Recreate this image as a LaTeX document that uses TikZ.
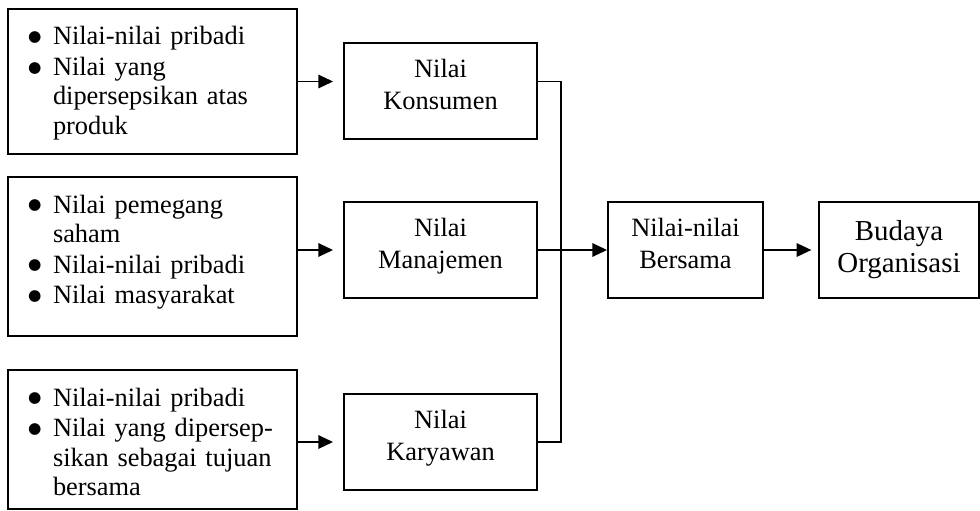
\documentclass[tikz,border=0pt]{standalone}
\usepackage{fontspec}
\setmainfont{Liberation Serif}
\newfontfamily\simbol{DejaVu Sans}
\usetikzlibrary{arrows.meta}

\newcommand{\butir}{\hspace*{15pt}\makebox[18.75pt][l]{\raisebox{2.6pt}{\simbol\fontsize{11.5pt}{12pt}\selectfont ●}}}
\newcommand{\lanjut}{\hspace*{33.75pt}}

\tikzset{
  sumber/.style={draw, line width=1.4pt, inner sep=0pt, text width=216.75pt, align=left,
    text height=27pt, font=\fontsize{19.8pt}{22pt}\selectfont},
  nilai/.style={draw, line width=1.4pt, inner sep=0pt, align=center, text width=144.75pt,
    text height=26pt, text depth=46pt, font=\fontsize{19.8pt}{24pt}\selectfont},
  panah/.style={line width=1.4pt, -{Triangle[length=11pt,width=10pt]}},
  garis/.style={line width=1.4pt}
}

\begin{document}
\begin{tikzpicture}[x=0.75pt,y=0.75pt,yscale=-1,xscale=1]
\useasboundingbox (0,0) rectangle (980,510);

% Sumber nilai
\node [sumber, text depth=81.75pt] (src1) at (152.5,81.5) {\butir Nilai-nilai pribadi\\[1pt] \butir Nilai yang\\ \lanjut dipersepsikan atas\\ \lanjut produk};
\node [sumber, text depth=92.25pt] (src2) at (152.5,256.5) {\butir Nilai pemegang\\ \lanjut saham\\[1pt] \butir Nilai-nilai pribadi\\[1pt] \butir Nilai masyarakat};
\node [sumber, text depth=77.25pt] (src3) at (152.5,439.5) {\butir Nilai-nilai pribadi\\[1pt] \butir Nilai yang dipersep-\\ \lanjut sikan sebagai tujuan\\ \lanjut bersama};

% Nilai per kelompok
\node [nilai] (kons) at (440.5,91) {Nilai\\Konsumen};
\node [nilai] (man) at (440.5,250) {Nilai\\Manajemen};
\node [nilai] (kar) at (440.5,442) {Nilai\\Karyawan};

% Nilai bersama dan budaya
\node [nilai, text width=116.25pt, text height=25.5pt, text depth=46.5pt] (bers) at (685.5,250) {Nilai-nilai\\Bersama};
\node [nilai, text width=120pt, text height=28.5pt, text depth=43.5pt, font=\fontsize{21.7pt}{24pt}\selectfont] (bud) at (899,250) {Budaya\\Organisasi};

% Panah
\draw [panah, shorten >=7.5pt] (src1.east) -- (src1.east -| kons.west);
\draw [panah, shorten >=7.5pt] (src2.east |- man.west) -- (man.west);
\draw [panah, shorten >=7.5pt] (src3.east |- kar.west) -- (kar.west);
\coordinate (simpul) at (561,250);
\draw [garis] (kons.east |- src1.east) -| (simpul);
\draw [garis] (kar.east) -| (simpul);
\draw [panah] (man.east) -- (bers.west);
\draw [panah, shorten >=5pt] (bers.east) -- (bud.west);
\end{tikzpicture}
\end{document}
